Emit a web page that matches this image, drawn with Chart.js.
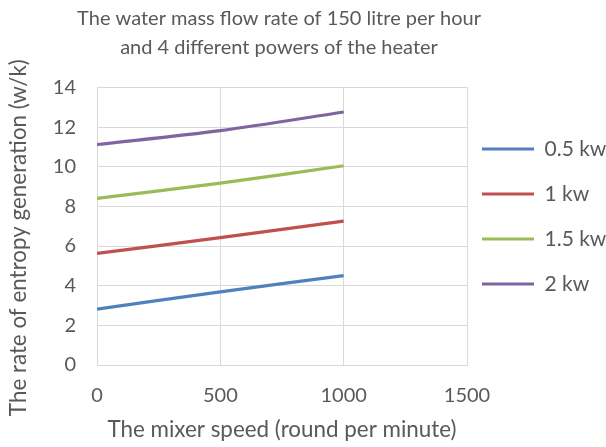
<!DOCTYPE html>
<html><head><meta charset="utf-8">
<script src="https://cdn.jsdelivr.net/npm/chart.js@4"></script>
<style>html,body{margin:0;padding:0;background:#fff;}#wrap{width:606px;height:447px;}</style>
</head><body><div id="wrap"><canvas id="c" width="606" height="447"></canvas></div>
<script>
const speeds = [0, 500, 1000];
const seriesNames = ['0.5 kw', '1 kw', '1.5 kw', '2 kw'];
const s05 = [2.82, 3.69, 4.51];
const s1 = [5.63, 6.42, 7.26];
const s15 = [8.40, 9.17, 10.05];
const s2 = [11.12, 11.82, 12.76];
const colors = ['#4F81BD', '#C0504D', '#9BBB59', '#8064A2'];
const xTicks = [0, 500, 1000, 1500];
const yTicks = [0, 2, 4, 6, 8, 10, 12, 14];
const titleLines = ['The water mass flow rate of 150 litre per hour', 'and 4 different powers of the heater'];
const xTitle = 'The mixer speed (round per minute)';
const yTitle = 'The rate of entropy generation (w/k)';

const FONT = 'Lato, "Open Sans", sans-serif';
const TXT = '#595959';
const GRID = '#D9D9D9';

const all = [s05, s1, s15, s2];
const datasets = all.map((vals, i) => ({
  label: seriesNames[i],
  data: speeds.map((x, j) => ({x: x, y: vals[j]})),
  borderColor: colors[i],
  backgroundColor: colors[i],
  borderWidth: 3.2,
  showLine: true,
  pointRadius: 0,
  tension: 0.3
}));

const boxShift = {
  id: 'boxShift',
  afterLayout(chart) {
    const l = chart.legend;
    if (l) { l.left -= 9; l.top -= 7; l.bottom -= 7; }
    const t = chart.titleBlock;
    if (t) { t.left -= 26; t.right -= 26; }
  }
};

new Chart(document.getElementById('c'), {
  type: 'scatter',
  data: {datasets},
  plugins: [boxShift],
  options: {
    responsive: false,
    animation: false,
    devicePixelRatio: 1,
    layout: {padding: {left: 4, right: 0, top: 4, bottom: 4}},
    plugins: {
      title: {display: true, text: titleLines, color: TXT, font: {family: FONT, size: 20, weight: 'normal', lineHeight: 1.435}, padding: {top: 0, bottom: 26}},
      legend: {
        position: 'right',
        align: 'center',
        maxWidth: 139,
        labels: {
          color: TXT,
          font: {family: FONT, size: 21},
          boxWidth: 52,
          boxHeight: 3,
          padding: 24,
          generateLabels: (chart) => chart.data.datasets.map((d, i) => ({
            text: d.label, fillStyle: d.borderColor, strokeStyle: d.borderColor, lineWidth: 0, fontColor: TXT, datasetIndex: i, hidden: false
          }))
        }
      },
      tooltip: {enabled: false}
    },
    scales: {
      x: {
        type: 'linear', min: 0, max: 1500,
        afterBuildTicks: (ax) => { ax.ticks = xTicks.map(v => ({value: v})); },
        afterFit: (ax) => { ax.height = 78; },
        grid: {color: GRID, lineWidth: 1, drawTicks: false},
        border: {color: GRID, width: 1},
        ticks: {color: TXT, font: {family: FONT, size: 20}, padding: 19, callback: (v) => String(v)},
        title: {display: true, text: xTitle, color: TXT, font: {family: FONT, size: 22.4}, padding: {top: 9, bottom: 0}}
      },
      y: {
        type: 'linear', min: 0, max: 14,
        afterBuildTicks: (ax) => { ax.ticks = yTicks.map(v => ({value: v})); },
        afterFit: (ax) => { ax.width = 93; },
        grid: {color: GRID, lineWidth: 1, drawTicks: false},
        border: {color: GRID, width: 1},
        ticks: {color: TXT, font: {family: FONT, size: 20}, padding: 21, callback: (v) => String(v)},
        title: {display: true, text: yTitle + '    ', color: TXT, font: {family: FONT, size: 22.4}, padding: {top: 1, bottom: 18}}
      }
    }
  }
});
</script></body></html>
